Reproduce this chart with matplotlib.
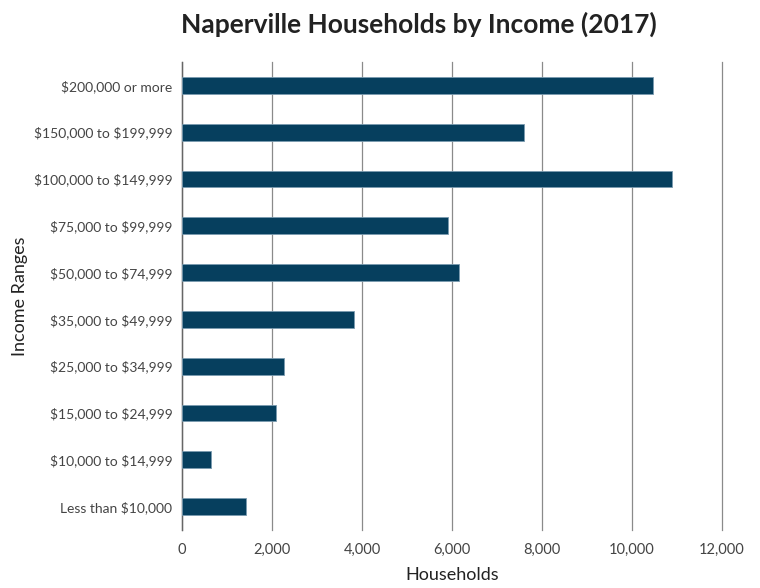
import matplotlib
matplotlib.use('Agg')
import matplotlib.pyplot as plt

# Households per income bracket, Naperville 2017
income_ranges = [
    'Less than $10,000',
    '$10,000 to $14,999',
    '$15,000 to $24,999',
    '$25,000 to $34,999',
    '$35,000 to $49,999',
    '$50,000 to $74,999',
    '$75,000 to $99,999',
    '$100,000 to $149,999',
    '$150,000 to $199,999',
    '$200,000 or more',
]
households = [1430, 636, 2083, 2266, 3825, 6155, 5910, 10890, 7590, 10475]
x_ticks = [0, 2000, 4000, 6000, 8000, 10000, 12000]

plt.rcParams['font.family'] = ['Lato', 'DejaVu Sans']
plt.rcParams['text.parse_math'] = False  # dollar signs are literal

fig = plt.figure(figsize=(7.6, 5.88), dpi=100)
ax = fig.add_axes([0.2395, 0.0986, 0.7105, 0.796])

ax.barh(range(len(income_ranges)), households, height=0.36,
        color='#063f5e', edgecolor='#7a9bb0', linewidth=0.6, zorder=3)

ax.set_xlim(0, 12000)
ax.set_ylim(-0.5, len(income_ranges) - 0.5)
ax.set_xticks(x_ticks)
ax.set_xticklabels([f'{t:,}' for t in x_ticks])
ax.set_yticks(range(len(income_ranges)))
ax.set_yticklabels(income_ranges)

ax.grid(axis='x', color='#8a8a8a', linewidth=0.9, zorder=0)
for gl in ax.get_xgridlines():
    gl.set_clip_on(False)
ax.tick_params(axis='both', length=0, labelsize=10.5, colors='#444444')
ax.tick_params(axis='y', pad=7)
ax.tick_params(axis='x', pad=9)
ax.yaxis.set_tick_params(labelsize=10)
for side in ['top', 'right', 'bottom']:
    ax.spines[side].set_visible(False)
ax.spines['left'].set_color('#666666')
ax.spines['left'].set_linewidth(1.0)

ax.set_xlabel('Households', fontsize=13, color='#222222')
ax.set_ylabel('Income Ranges', fontsize=13, color='#222222')
ax.xaxis.set_label_coords(0.5, -0.08)
ax.yaxis.set_label_coords(-0.285, 0.5)
fig.suptitle('Naperville Households by Income (2017)', x=0.551, y=0.98,
             fontsize=19, fontweight='bold', color='#222222')

fig.savefig('out.png', dpi=100)
